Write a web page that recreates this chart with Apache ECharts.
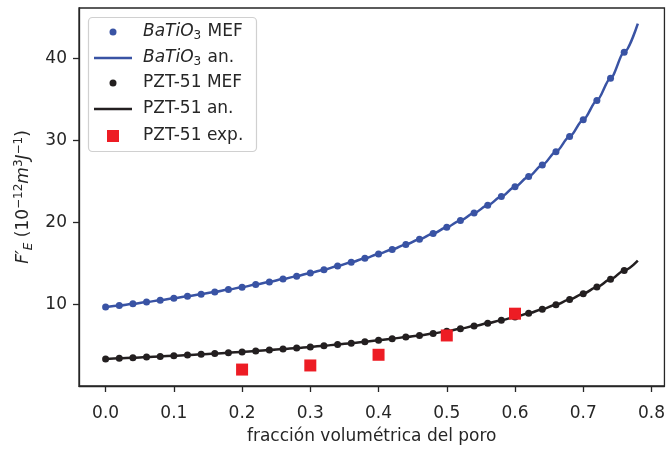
<!DOCTYPE html>
<html>
<head>
<meta charset="utf-8">
<script src="https://cdn.jsdelivr.net/npm/echarts@6/dist/echarts.min.js"></script>
<style>html,body{margin:0;padding:0;background:#fff}#c{width:668px;height:450px}</style>
</head>
<body>
<div id="c"></div>
<script>
// ---- data ----
const xMef = [0.00,0.02,0.04,0.06,0.08,0.10,0.12,0.14,0.16,0.18,0.20,0.22,0.24,0.26,0.28,0.30,0.32,0.34,0.36,0.38,0.40,0.42,0.44,0.46,0.48,0.50,0.52,0.54,0.56,0.58,0.60,0.62,0.64,0.66,0.68,0.70,0.72,0.74,0.76];
const baMef = [9.70,9.90,10.10,10.32,10.54,10.78,11.02,11.28,11.55,11.83,12.13,12.44,12.76,13.11,13.47,13.86,14.26,14.70,15.16,15.65,16.17,16.72,17.32,17.96,18.66,19.42,20.25,21.15,22.10,23.15,24.35,25.60,27.00,28.60,30.45,32.50,34.85,37.55,40.70];
const pztMef = [3.40,3.47,3.54,3.62,3.70,3.78,3.86,3.95,4.05,4.15,4.25,4.36,4.47,4.59,4.72,4.86,5.00,5.15,5.31,5.48,5.67,5.86,6.05,6.25,6.50,6.75,7.08,7.39,7.73,8.10,8.50,8.95,9.44,10.00,10.63,11.33,12.14,13.08,14.17];
const xAn = [0.00,0.02,0.04,0.06,0.08,0.10,0.12,0.14,0.16,0.18,0.20,0.22,0.24,0.26,0.28,0.30,0.32,0.34,0.36,0.38,0.40,0.42,0.44,0.46,0.48,0.50,0.52,0.54,0.56,0.58,0.60,0.62,0.64,0.66,0.68,0.70,0.72,0.74,0.76,0.78];
const baAn = [9.70,9.90,10.10,10.32,10.54,10.78,11.02,11.28,11.55,11.83,12.13,12.44,12.76,13.11,13.47,13.86,14.26,14.70,15.16,15.65,16.17,16.72,17.32,17.96,18.66,19.42,20.25,21.15,22.10,23.15,24.35,25.60,27.00,28.60,30.45,32.50,34.85,37.55,40.70,44.20];
const pztAn = [3.40,3.47,3.54,3.62,3.70,3.78,3.86,3.95,4.05,4.15,4.25,4.36,4.47,4.59,4.72,4.86,5.00,5.15,5.31,5.48,5.67,5.86,6.05,6.25,6.50,6.75,7.08,7.39,7.73,8.10,8.50,8.95,9.44,10.00,10.63,11.33,12.14,13.08,14.17,15.35];
const xExp = [0.2,0.3,0.4,0.5,0.6];
const pztExp = [2.1,2.6,3.9,6.25,8.9];
const xTicks = [0,0.1,0.2,0.3,0.4,0.5,0.6,0.7,0.8];
const yTicks = [10,20,30,40];
const seriesNames = ['BaTiO3 MEF','BaTiO3 an.','PZT-51 MEF','PZT-51 an.','PZT-51 exp.'];

const BLUE = '#3953A4', BLACK = '#231F20', RED = '#ED1C24';
const TXT = '#262626';
const FONT = 'DejaVu Sans';
const zip = (xs, ys) => xs.map((x, i) => [x, ys[i]]);

const chart = echarts.init(document.getElementById('c'), null, {renderer: 'canvas'});

const legendRich = {
  it: {fontStyle: 'italic', fontSize: 17, fontFamily: FONT, color: TXT, lineHeight: 20},
  sub: {fontSize: 12, fontFamily: FONT, color: TXT, verticalAlign: 'bottom', lineHeight: 12, padding: [0,1,0,0]},
  n: {fontSize: 17, fontFamily: FONT, color: TXT, lineHeight: 20}
};
function legendFmt(name) {
  if (name.indexOf('BaTiO3') === 0) {
    return '{it|BaTiO}{sub|3}{n|' + name.slice(6) + '}';
  }
  return '{n|' + name + '}';
}
const rowCenters = [32, 58, 83, 109, 136];
const ICON_CX = 113, TEXT_X = 143;
// kind: 'dot' | 'line' | 'square'
function mkLegend(i, kind) {
  let w, h, icon;
  if (kind === 'dot') { w = 7; h = 7; icon = 'circle'; }
  else if (kind === 'square') { w = 12; h = 12; icon = 'rect'; }
  else { w = 38; h = 2.5; icon = 'rect'; }
  const left = ICON_CX - w / 2;
  const pad = TEXT_X - (left + w + 5);
  return {
    data: [{name: seriesNames[i], icon: icon}],
    orient: 'vertical',
    left: left,
    top: rowCenters[i] - 10,
    padding: 0,
    itemWidth: w,
    itemHeight: h,
    selectedMode: false,
    z: 6,
    formatter: legendFmt,
    textStyle: {fontFamily: FONT, fontSize: 17, color: TXT, lineHeight: 20, padding: [0,0,0,pad], rich: legendRich}
  };
}

const option = {
  animation: false,
  backgroundColor: '#ffffff',
  grid: {left: 79, right: 2, top: 8, bottom: 61, show: true, borderColor: TXT, borderWidth: 1.3, backgroundColor: 'transparent', containLabel: false},
  graphic: [{
    type: 'rect', z: 5,
    shape: {x: 88.5, y: 17.5, width: 168, height: 134, r: 4},
    style: {fill: 'rgba(255,255,255,0.85)', stroke: '#d0d0d0', lineWidth: 1.2}
  }],
  legend: [
    mkLegend(0, 'dot'),
    mkLegend(1, 'line'),
    mkLegend(2, 'dot'),
    mkLegend(3, 'line'),
    mkLegend(4, 'square')
  ],
  xAxis: {
    type: 'value', min: -0.039, max: 0.819,
    name: 'fracción volumétrica del poro',
    nameLocation: 'middle', nameGap: 42,
    nameTextStyle: {fontFamily: FONT, fontSize: 17, color: TXT},
    axisLine: {show: true, onZero: false, lineStyle: {color: TXT, width: 1.3}},
    axisTick: {show: true, length: 6, lineStyle: {color: TXT, width: 1.3}, customValues: xTicks},
    axisLabel: {fontFamily: FONT, fontSize: 17, color: TXT, margin: 19, customValues: xTicks, formatter: v => v.toFixed(1)},
    splitLine: {show: false}
  },
  yAxis: {
    type: 'value', min: 0.1, max: 46.1,
    name: '{it|F′}{sub|E}{n| (10}{sup|−12}{it|m}{sup|3}{it|J}{sup|−1}{n|)}',
    nameLocation: 'middle', nameGap: 38, nameRotate: 90,
    nameTextStyle: {
      fontFamily: FONT, fontSize: 17, color: TXT,
      rich: {
        it: {fontStyle: 'italic', fontSize: 17, fontFamily: FONT, color: TXT, lineHeight: 22},
        n: {fontSize: 17, fontFamily: FONT, color: TXT, lineHeight: 22},
        sup: {fontSize: 12, fontFamily: FONT, color: TXT, verticalAlign: 'top', lineHeight: 12},
        sub: {fontSize: 12, fontStyle: 'italic', fontFamily: FONT, color: TXT, verticalAlign: 'bottom', lineHeight: 12}
      }
    },
    axisLine: {show: true, onZero: false, lineStyle: {color: TXT, width: 1.3}},
    axisTick: {show: true, length: 6, lineStyle: {color: TXT, width: 1.3}, customValues: yTicks},
    axisLabel: {fontFamily: FONT, fontSize: 17, color: TXT, margin: 12, customValues: yTicks},
    splitLine: {show: false}
  },
  series: [
    {name: seriesNames[0], type: 'scatter', data: zip(xMef, baMef), symbol: 'circle', symbolSize: 7, itemStyle: {color: BLUE, opacity: 1}, z: 3},
    {name: seriesNames[1], type: 'line', data: zip(xAn, baAn), symbol: 'none', smooth: 0.3, smoothMonotone: 'x', lineStyle: {color: BLUE, width: 2.5}, itemStyle: {color: BLUE}, z: 2},
    {name: seriesNames[2], type: 'scatter', data: zip(xMef, pztMef), symbol: 'circle', symbolSize: 7, itemStyle: {color: BLACK, opacity: 1}, z: 3},
    {name: seriesNames[3], type: 'line', data: zip(xAn, pztAn), symbol: 'none', smooth: 0.3, smoothMonotone: 'x', lineStyle: {color: BLACK, width: 2.5}, itemStyle: {color: BLACK}, z: 2},
    {name: seriesNames[4], type: 'scatter', data: zip(xExp, pztExp), symbol: 'rect', symbolSize: 12, itemStyle: {color: RED, opacity: 1}, z: 4}
  ]
};
chart.setOption(option);
</script>
</body>
</html>
